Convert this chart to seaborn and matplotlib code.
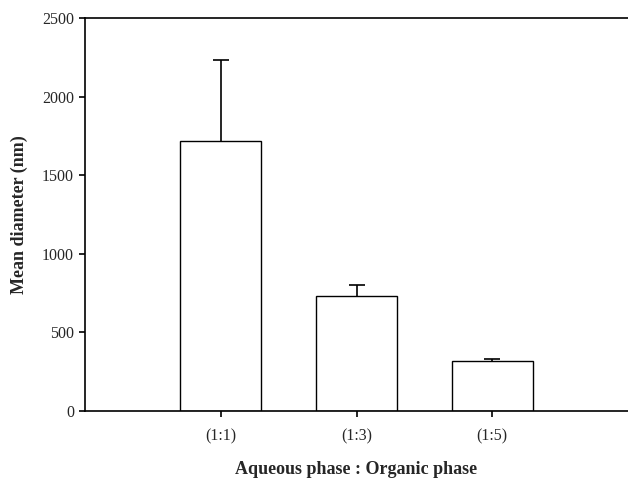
import matplotlib
matplotlib.use("Agg")
import matplotlib.pyplot as plt
import seaborn as sns
import pandas as pd

categories = ["(1:1)", "(1:3)", "(1:5)"]
means = [1720, 730, 320]
upper_err = [510, 70, 10]

sns.set_style("ticks")
plt.rcParams['font.family'] = ['Liberation Serif', 'DejaVu Serif']

df = pd.DataFrame({"ratio": categories, "mean": means})

fig = plt.figure(figsize=(6.28, 4.78), dpi=100)
ax = fig.add_axes([85/628, 67/478, 1 - 85/628, (411-18)/478])

sns.barplot(data=df, x="ratio", y="mean", ax=ax, color="white",
            edgecolor="black", linewidth=1.0, width=0.6, errorbar=None,
            saturation=1)
eb = ax.errorbar(range(len(categories)), means, yerr=[[0]*len(means), upper_err],
                 fmt="none", ecolor="black", elinewidth=1.2, capsize=6, capthick=1.2)
caps = eb[1]
if len(caps) >= 2:
    caps[0].set_visible(False)

ax.set_xlim(-1, 3)
ax.set_ylim(0, 2500)
ax.set_yticks([0, 500, 1000, 1500, 2000, 2500])
ax.set_xlabel("Aqueous phase : Organic phase", fontsize=13, fontweight="bold", labelpad=12)
ax.set_ylabel("Mean diameter (nm)", fontsize=13, fontweight="bold", labelpad=10)
ax.tick_params(axis="both", labelsize=11.5, width=1.2, length=4.5, color="black")
ax.tick_params(axis="x", pad=8)
for s in ["left", "top", "bottom"]:
    ax.spines[s].set_linewidth(1.2)
    ax.spines[s].set_color("black")
ax.spines["right"].set_visible(False)

fig.savefig("out.png", dpi=100)
